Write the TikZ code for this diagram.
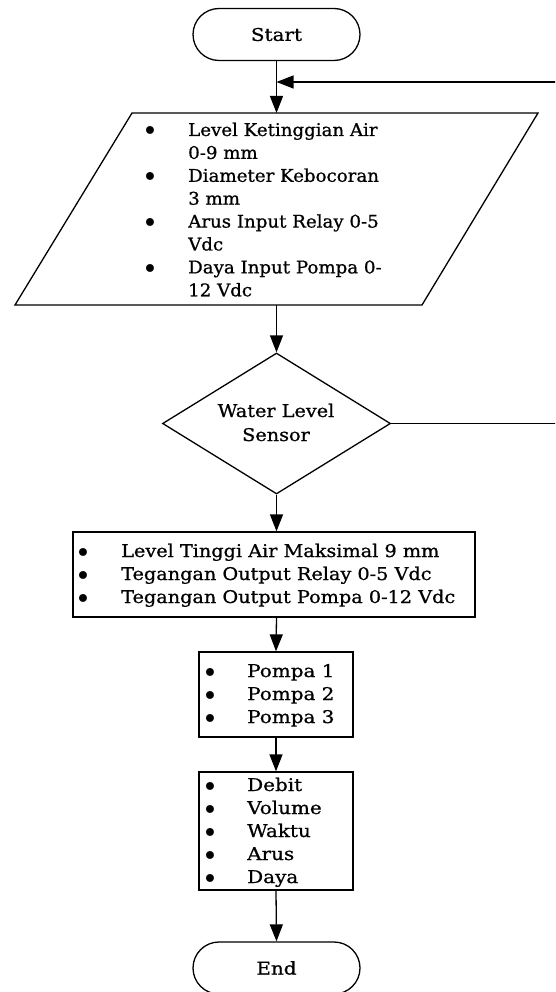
\documentclass[tikz,border=0pt]{standalone}
\usepackage{fontspec}
\setmainfont{DejaVu Serif}
\newfontfamily\fpara[FakeStretch=1.04,FakeBold=0.8]{DejaVu Serif}
\newfontfamily\fboxa[FakeStretch=1.10,FakeBold=0.8]{DejaVu Serif}
\newfontfamily\fsmall[FakeStretch=1.14,FakeBold=0.8]{DejaVu Serif}
\usetikzlibrary{shapes.geometric,arrows.meta}
\tikzset{
  flowline/.style={line width=1.3pt, draw=black},
  arr/.style={flowline, -{Triangle[length=17pt,width=13pt]}},
  terminal/.style={draw=black, line width=1.3pt, rectangle, rounded corners=26pt, minimum width=167pt, minimum height=52pt, inner sep=0pt},
  boxnode/.style={draw=black, line width=1.3pt, rectangle, inner sep=0pt},
  decision/.style={draw=black, line width=1.3pt, diamond, minimum width=228pt, minimum height=141pt, inner sep=0pt},
  txt/.style={anchor=base west, inner sep=0pt},
  ctxt/.style={anchor=base, inner sep=0pt},
  bul/.style={anchor=base, inner sep=0pt, font=\fontsize{27}{28}\selectfont},
}
\newcommand{\sz}{\fontsize{17.5}{20}\selectfont}
\newcommand{\bulmark}{\smash{\textbullet}}
\begin{document}
\begin{tikzpicture}[x=1pt,y=-1pt]
\clip (0,0) rectangle (555,992);
\fill[white] (0,0) rectangle (555,992);

% Start
\node[terminal, font=\fsmall\sz] (start) at (276.5,34.5) {Start};

% Input parallelogram
\coordinate (pTL) at (132,113);
\coordinate (pTR) at (538,113);
\coordinate (pBR) at (422,305);
\coordinate (pBL) at (15,305);
\coordinate (pTop) at (276.5,113);
\coordinate (pBot) at (276.5,305);
\draw[flowline] (pTL) -- (pTR) -- (pBR) -- (pBL) -- cycle;
\foreach \i/\t/\b in {0/{Level Ketinggian Air}/1, 1/{0-9 mm}/0, 2/{Diameter Kebocoran}/1, 3/{3 mm}/0, 4/{Arus Input Relay 0-5}/1, 5/{Vdc}/0, 6/{Daya Input Pompa 0-}/1, 7/{12 Vdc}/0}{
  \node[txt, font=\fpara\sz] (pt\i) at (188,136+22.9*\i) {\t};
  \ifnum\b=1 \node[bul] (pb\i) at (150,141+22.9*\i) {\bulmark}; \fi
}

% Decision
\node[decision] (dec) at (276.5,423.5) {};
\node[ctxt, font=\fboxa\sz] (dec1) at (276,417) {Water Level};
\node[ctxt, font=\fboxa\sz] (dec2) at (276,441) {Sensor};

% Box 1
\node[boxnode, minimum width=402pt, minimum height=85pt] (b1) at (274,574.5) {};
\foreach \i/\t in {0/{Level Tinggi Air Maksimal 9 mm}, 1/{Tegangan Output Relay 0-5 Vdc}, 2/{Tegangan Output Pompa 0-12 Vdc}}{
  \node[txt, font=\fboxa\sz] (b1t\i) at (121,557+23*\i) {\t};
  \node[bul] (b1b\i) at (83,562+23*\i) {\bulmark};
}

% Box 2
\node[boxnode, minimum width=154pt, minimum height=85pt] (b2) at (276,694.5) {};
\foreach \i/\t in {0/{Pompa 1}, 1/{Pompa 2}, 2/{Pompa 3}}{
  \node[txt, font=\fsmall\sz] (b2t\i) at (247,677+23*\i) {\t};
  \node[bul] (b2b\i) at (210,682+23*\i) {\bulmark};
}

% Box 3
\node[boxnode, minimum width=154pt, minimum height=118pt] (b3) at (276,831) {};
\foreach \i/\t in {0/{Debit}, 1/{Volume}, 2/{Waktu}, 3/{Arus}, 4/{Daya}}{
  \node[txt, font=\fsmall\sz] (b3t\i) at (247,791+23*\i) {\t};
  \node[bul] (b3b\i) at (210,796+23*\i) {\bulmark};
}

% End
\node[terminal, font=\fsmall\sz] (end) at (276.5,968) {End};

% connectors
\draw[arr] (start.south) -- (pTop);
\draw[arr] (pBot) -- (dec.north);
\draw[arr] (dec.south) -- (dec.south |- b1.north);
\draw[arr] (dec.south |- b1.south) -- (b2.north);
\draw[arr] (b2.south) -- (b3.north);
\draw[arr] (b3.south) -- (end.north);

% loop back
\coordinate (loopR1) at (565,423.5);
\coordinate (loopR2) at (565,82);
\coordinate (loopIn) at (276.5,82);
\draw[arr] (dec.east) -- (loopR1) -- (loopR2) -- (loopIn);
\end{tikzpicture}
\end{document}
